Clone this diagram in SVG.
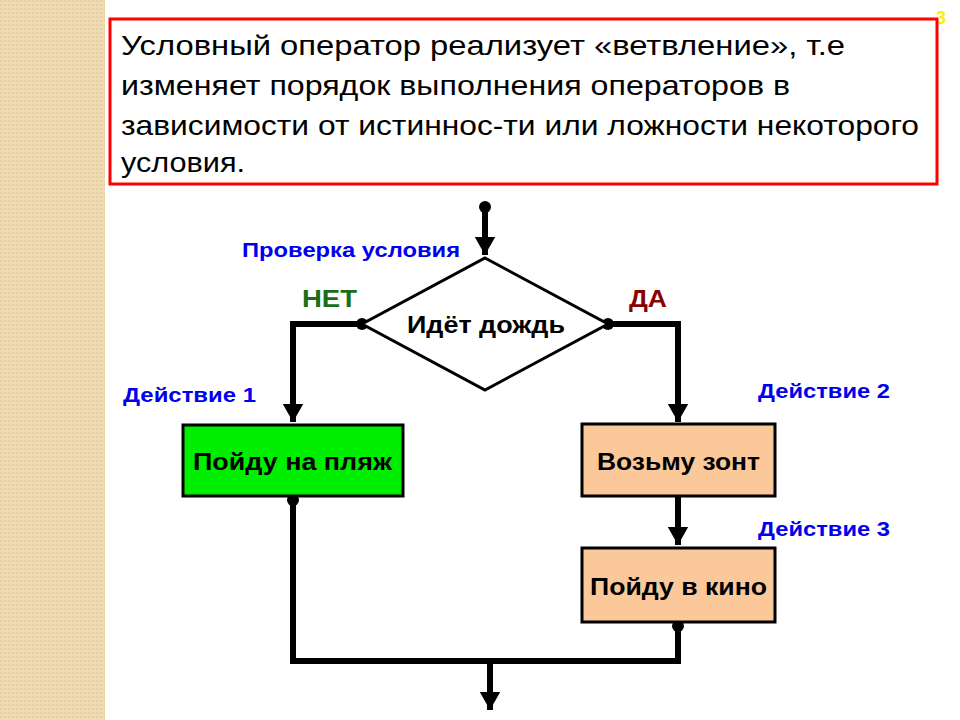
<svg xmlns="http://www.w3.org/2000/svg" width="960" height="720" viewBox="0 0 960 720">
<defs>
<pattern id="tex" width="4" height="4" patternUnits="userSpaceOnUse"><rect width="4" height="4" fill="#efdcb4"/><rect width="2" height="2" fill="#e6cfa0"/></pattern>
<marker id="ah" markerWidth="4" markerHeight="4" refX="3" refY="2" orient="auto" markerUnits="strokeWidth"><path d="M0,0.3 L3,2 L0,3.7 Z" fill="#000"/></marker>
</defs>
<style>
.ln{fill:none;stroke:#000;stroke-width:6}
.dot{fill:#000}
.t{font-family:"Liberation Sans",Arial,sans-serif;font-size:28px}
.b{font-family:"Liberation Sans",Arial,sans-serif;font-weight:bold;font-size:24px}
.lb{font-family:"Liberation Sans",Arial,sans-serif;font-weight:bold;font-size:20px;fill:#0000ee}
</style>
<rect width="960" height="720" fill="#fff"/>
<rect width="105" height="720" fill="url(#tex)"/>
<text x="936" y="24" font-family="Liberation Sans,sans-serif" font-weight="bold" font-size="18" fill="#ffee00">3</text>
<g id="header">
<rect x="110" y="19" width="827" height="165" fill="#fff" stroke="#ff0000" stroke-width="3"/>
<text class="t" x="121" y="55" textLength="724" lengthAdjust="spacingAndGlyphs">Условный оператор реализует «ветвление», т.е</text>
<text class="t" x="121" y="95" textLength="669" lengthAdjust="spacingAndGlyphs">изменяет порядок выполнения операторов в</text>
<text class="t" x="121" y="135" textLength="798" lengthAdjust="spacingAndGlyphs">зависимости от истиннос-ти или ложности некоторого</text>
<text class="t" x="121" y="172" textLength="124" lengthAdjust="spacingAndGlyphs">условия.</text>
</g>
<g id="connectors">
<path class="ln" d="M485,207 V255" marker-end="url(#ah)"/>
<path class="ln" d="M362,324 H293 V422" marker-end="url(#ah)"/>
<path class="ln" d="M608,324 H678 V422" marker-end="url(#ah)"/>
<path class="ln" d="M678,497 V545" marker-end="url(#ah)"/>
<path class="ln" d="M293,500 V661 H678 V626"/>
<path class="ln" d="M490,661 V710" marker-end="url(#ah)"/>
<circle class="dot" cx="485" cy="207" r="6"/>
<circle class="dot" cx="362" cy="324" r="6"/>
<circle class="dot" cx="608" cy="324" r="6"/>
<circle class="dot" cx="293" cy="500" r="6"/>
<circle class="dot" cx="678" cy="626" r="6"/>
</g>
<g id="decision">
<polygon points="485,258 608,324 485,390 362,324" fill="#fff" stroke="#000" stroke-width="3"/>
<text class="b" x="407" y="333" textLength="158" lengthAdjust="spacingAndGlyphs">Идёт дождь</text>
</g>
<text class="lb" x="242" y="257" textLength="218" lengthAdjust="spacingAndGlyphs">Проверка условия</text>
<text class="b" x="302" y="307" fill="#1a6e1a" font-size="22" textLength="55" lengthAdjust="spacingAndGlyphs">НЕТ</text>
<text class="b" x="629" y="307" fill="#8b0000" font-size="22" textLength="38" lengthAdjust="spacingAndGlyphs">ДА</text>
<text class="lb" x="123" y="402" textLength="133" lengthAdjust="spacingAndGlyphs">Действие 1</text>
<text class="lb" x="758" y="398" textLength="132" lengthAdjust="spacingAndGlyphs">Действие 2</text>
<text class="lb" x="758" y="536" textLength="132" lengthAdjust="spacingAndGlyphs">Действие 3</text>
<g id="action1">
<rect x="183" y="425" width="220" height="71" fill="#00ee00" stroke="#000" stroke-width="3"/>
<text class="b" x="193" y="470" textLength="199" lengthAdjust="spacingAndGlyphs">Пойду на пляж</text>
</g>
<g id="action2">
<rect x="582" y="424" width="193" height="72" fill="#fbc89a" stroke="#000" stroke-width="3"/>
<text class="b" x="597" y="470" textLength="163" lengthAdjust="spacingAndGlyphs">Возьму зонт</text>
</g>
<g id="action3">
<rect x="582" y="548" width="193" height="74" fill="#fbc89a" stroke="#000" stroke-width="3"/>
<text class="b" x="590" y="595" textLength="177" lengthAdjust="spacingAndGlyphs">Пойду в кино</text>
</g>
</svg>
